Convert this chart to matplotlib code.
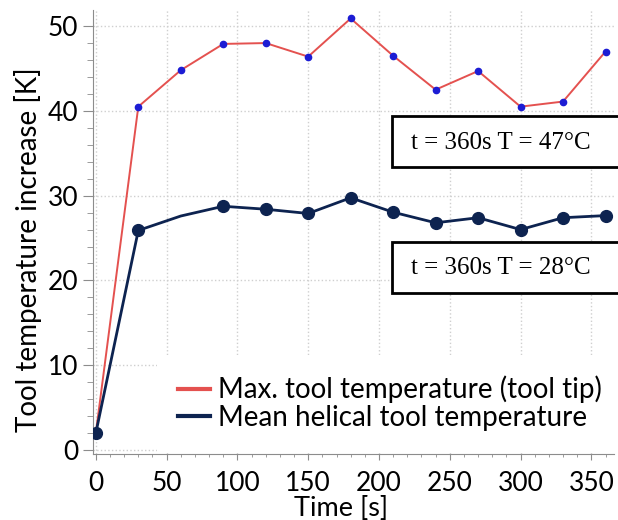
import numpy as np
import matplotlib
matplotlib.use('Agg')
import matplotlib.pyplot as plt
from matplotlib.patches import Rectangle
from matplotlib.ticker import MultipleLocator

# data
time_s = [0, 30, 60, 90, 120, 150, 180, 210, 240, 270, 300, 330, 360]
max_temp = [2, 40.5, 44.8, 47.9, 48.0, 46.4, 50.9, 46.5, 42.5, 44.7, 40.5, 41.1, 47.0]
mean_temp = [2, 25.9, 27.6, 28.75, 28.4, 27.9, 29.75, 28.05, 26.8, 27.4, 26.0, 27.4, 27.65]
labels = ['Max. tool temperature (tool tip)', 'Mean helical tool temperature']
box_texts = ['t = 360s T = 47°C', 't = 360s T = 28°C']

plt.rcParams['font.family'] = ['Lato', 'DejaVu Sans']
W, H = 618, 520

fig = plt.figure(figsize=(W/100, H/100), dpi=100)
ax = fig.add_axes([93/W, 1 - 454/H, (614-93)/W, (454-10)/H])

ax.plot(time_s, max_temp, color='#e4514f', lw=1.4, marker='o', ms=4.5,
        mfc='#1c1cd4', mec='#1c1cd4', label=labels[0], zorder=3)
navy_marks = [i for i in range(len(time_s)) if i != 2]
ax.plot(time_s, mean_temp, color='#0d2350', lw=2, marker='o', ms=8.5,
        markevery=navy_marks, mfc='#0d2350', mec='#0d2350', label=labels[1], zorder=3)

ax.set_xlim(-2, 366)
ax.set_ylim(-0.47, 51.9)
ax.xaxis.set_major_locator(MultipleLocator(50))
ax.xaxis.set_minor_locator(MultipleLocator(10))
ax.yaxis.set_major_locator(MultipleLocator(10))
ax.yaxis.set_minor_locator(MultipleLocator(2))
ax.grid(True, which='major', color='#cfcfcf', ls=':', lw=1)
ax.tick_params(which='both', color='#8c8c8c', labelsize=19)
ax.tick_params(axis='x', which='major', length=4.5, pad=7.5)
ax.tick_params(axis='x', which='minor', length=2.5)
ax.tick_params(axis='y', which='major', length=7, pad=3.5)
ax.tick_params(axis='y', which='minor', length=4)
for s in ['top', 'right']:
    ax.spines[s].set_visible(False)
for s in ['left', 'bottom']:
    ax.spines[s].set_color('#8c8c8c')

fig.text(341/W, 1 - 508/H, 'Time [s]', fontsize=19.5, ha='center', va='center')
fig.text(28/W, 1 - 250/H, 'Tool temperature increase [K]', fontsize=20,
         rotation=90, ha='center', va='center')

leg = ax.legend(loc='upper left', bbox_to_anchor=(157/W, 1 - 355/H),
                bbox_transform=fig.transFigure, borderaxespad=0, fontsize=20,
                frameon=True, framealpha=1, facecolor='white', edgecolor='none',
                fancybox=False, handlelength=1.15, handletextpad=0.3,
                labelspacing=0.05, borderpad=0.75)
for line in leg.get_lines():
    line.set_linewidth(3)
    line.set_marker('')

# annotation boxes (partly cut by the figure edge)
for (y0, y1), yt, txt in zip([(116, 167), (242, 293)], [143, 268], box_texts):
    rect = Rectangle((392/W, 1 - y1/H), 240/W, (y1 - y0)/H,
                     transform=fig.transFigure, fill=True, facecolor='white',
                     edgecolor='black', lw=2, zorder=5, clip_on=False)
    fig.patches.append(rect)
    fig.text(411/W, 1 - yt/H, txt, fontsize=18,
             family='Liberation Serif', va='center', ha='left', zorder=6)

fig.savefig('out.png', dpi=100)
